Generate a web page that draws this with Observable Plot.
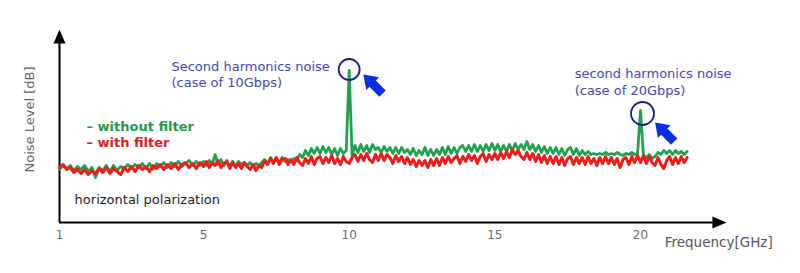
<!DOCTYPE html>
<html>
<head>
<meta charset="utf-8">
<script src="https://cdn.jsdelivr.net/npm/d3@7"></script>
<script src="https://cdn.jsdelivr.net/npm/@observablehq/plot@0.6"></script>
<style>
  html, body { margin: 0; padding: 0; background: #fff; }
</style>
</head>
<body>
<div id="chart"></div>
<script>
// ---- data ----
// frequency grid in GHz: 1.0 .. 21.6, step 0.1
const freqGHz = d3.range(10, 217).map(i => i / 10);

// noise level, arbitrary dB units
const withoutFilter = [
  26.5, 28.5, 27, 28.5, 26, 28, 26.5, 28.5, 25.5, 27.5,
  22.5, 27.5, 26, 28.5, 25.5, 28.5, 26, 28, 27, 29,
  27, 29, 27.5, 29.5, 27, 29.5, 26.5, 29.5, 28, 30,
  27.5, 30, 28, 30.5, 28, 29.5, 31, 28.5, 30.5, 28.5,
  30.5, 28.5, 31, 29, 34, 29, 31.5, 28.5, 31, 28,
  30.5, 28, 30.5, 29, 30, 28.5, 30, 28, 29.5, 28.5,
  30, 31.5, 29.5, 32.5, 30, 32, 30, 32.5, 30.5, 31.5,
  30.5, 32, 31, 34, 32.5, 36, 33.5, 37, 34.5, 37.5,
  34.5, 38, 35, 37.5, 34, 37, 33.5, 37, 34.5, 36,
  76, 33.5, 38.5, 35, 39, 35.5, 38.5, 35, 39, 36.5,
  37.5, 35, 38, 35.5, 37.5, 34.5, 37.5, 34.5, 37.5, 35,
  36.5, 34, 37, 33.5, 36, 34, 37.5, 33.5, 36.5, 33.5,
  36.5, 34, 37.5, 34, 38, 34.5, 37.5, 34.5, 37.5, 38.5,
  35.5, 38.5, 35.5, 39, 35.5, 38.5, 35.5, 39, 36, 39.5,
  36, 39, 35.5, 38.5, 35.5, 39, 36, 39.5, 36.5, 39,
  36.5, 40.5, 36.5, 39, 35.5, 38.5, 35, 38, 34.5, 37.5,
  34.5, 37.5, 34, 37, 33.5, 36.5, 37.5, 34, 37, 33.5,
  36, 34, 35.5, 34, 34.5, 34, 34.5, 34, 35, 34,
  34.5, 34, 35, 34, 33.5, 34.5, 34, 35, 34, 34.5,
  56, 33.5, 32.5, 34, 32, 33, 35, 34, 36, 34.5,
  36, 34, 36, 34.5, 35.5, 34, 35.5
];
const withFilter = [
  27.5, 29, 26.5, 27.5, 25, 26.5, 24.5, 26.5, 24, 26,
  24.5, 27, 25, 27.5, 24.5, 27, 25.5, 24, 27.5, 25.5,
  28, 25.5, 28.5, 26.5, 28, 25.5, 28.5, 27, 29, 26.5,
  29, 27, 29.5, 26.5, 29, 30, 27.5, 29.5, 27, 30,
  28, 30.5, 27.5, 30, 28.5, 31, 27.5, 29.5, 30.5, 27,
  30, 27.5, 29.5, 27, 30, 28, 26.5, 29, 26, 28.5,
  27.5, 31, 29, 32, 29.5, 32.5, 29, 31.5, 32, 29,
  31.5, 29, 32.5, 30, 28.5, 32, 29.5, 33, 29, 32,
  33, 29.5, 32.5, 30, 33.5, 29.5, 32, 29, 33, 30.5,
  29.5, 32.5, 34, 30.5, 34, 31, 34.5, 31.5, 30, 34,
  31, 34.5, 31, 34, 32.5, 29.5, 33.5, 30.5, 33, 29.5,
  32.5, 29, 31.5, 28, 31, 28.5, 31, 27.5, 31.5, 28.5,
  32, 28.5, 32.5, 29.5, 33, 30, 32, 33.5, 29.5, 33,
  30.5, 34, 31, 33.5, 29.5, 33, 34.5, 30.5, 34, 31.5,
  34.5, 31.5, 35, 32, 35.5, 32.5, 36.5, 34, 36, 33,
  31.5, 35, 31.5, 34.5, 30.5, 34, 30, 33.5, 29.5, 33,
  29.5, 33, 29, 32.5, 28.5, 32, 33, 29, 32.5, 29.5,
  32.5, 29, 33, 29.5, 32, 28.5, 32.5, 29.5, 33, 29.5,
  32.5, 29, 32, 27.5, 31.5, 32.5, 29, 33, 30, 33.5,
  30, 33.5, 29.5, 33, 30, 28.5, 32.5, 29, 27, 31,
  33, 29, 32.5, 29.5, 33, 30, 32.5
];

const xTicks = [1, 5, 10, 15, 20];
const seriesNames = ["without filter", "with filter"];
const seriesColors = ["#1ea24e", "#ee1c1c"];
const legendColors = ["#1f9a4c", "#d3222a"];

const annotationText = ["Second harmonics noise", "(case of 10Gbps)", "second harmonics noise", "(case of 20Gbps)"];
const annotationGHz = [4.11, 4.11, 17.74, 17.74];
const annotationDb = [78, 70, 74.5, 66];

const peakGHz = [10.0, 20.07];
const peakDb = [76.5, 54.5];
const peakRadius = [10.5, 11.5];

const pointerGHz = [10.49, 20.5];
const pointerDb = [74, 50];

// ---- build ----
const rows = (vals, name) => vals.map((v, i) => ({f: freqGHz[i], db: v, series: name}));
const green = rows(withoutFilter, seriesNames[0]);
const red = rows(withFilter, seriesNames[1]);

const blockArrow = {
  draw(context, l) {
    const hw = 9, hl = 13, sw = 4.5;
    context.moveTo(-sw, 0);
    context.lineTo(-sw, -l + hl);
    context.lineTo(-hw, -l + hl);
    context.lineTo(0, -l);
    context.lineTo(hw, -l + hl);
    context.lineTo(sw, -l + hl);
    context.lineTo(sw, 0);
    context.closePath();
  }
};
const headShape = {
  draw(context, l) {
    context.moveTo(-6, 0);
    context.lineTo(0, -l);
    context.lineTo(6, 0);
    context.closePath();
  }
};

const chart = Plot.plot({
  width: 800,
  height: 273,
  marginTop: 30,
  marginBottom: 51,
  marginLeft: 59,
  marginRight: 75,
  style: {fontFamily: "'DejaVu Sans', Verdana, sans-serif", background: "#fff", overflow: "visible"},
  x: {type: "linear", domain: [1, 5, 20], range: [59, 203, 640], axis: null},
  y: {domain: [0, 96], range: [222, 30], axis: null},
  r: {type: "identity"},
  marks: [
    // axes
    Plot.ruleX([1], {y1: 0, y2: 91, stroke: "#000", strokeWidth: 2}),
    Plot.ruleY([0], {x1: 1, x2: 22.55, stroke: "#000", strokeWidth: 2}),
    Plot.vector([{x: 1, y: 96.5}], {x: "x", y: "y", length: 14, rotate: 0, anchor: "end", shape: headShape, fill: "#000", stroke: "none"}),
    Plot.vector([{x: 22.95, y: 0}], {x: "x", y: "y", length: 14, rotate: 90, anchor: "end", shape: headShape, fill: "#000", stroke: "none"}),
    Plot.axisX({ticks: xTicks, tickSize: 0, tickPadding: 8, fontSize: 12, fill: "#6a6a6a", tickFormat: d => String(d)}),
    Plot.text(["Frequency[GHz]"], {x: 20.83, y: -10, textAnchor: "start", fontSize: 13.5, fill: "#555"}),
    Plot.text(["Noise Level [dB]"], {x: 0.17, y: 51.5, rotate: -90, fontSize: 13, fill: "#666"}),

    // series
    Plot.line(green, {x: "f", y: "db", stroke: seriesColors[0], strokeWidth: 2.8, strokeLinejoin: "round"}),
    Plot.line(red, {x: "f", y: "db", stroke: seriesColors[1], strokeWidth: 3, strokeLinejoin: "round"}),

    // legend
    Plot.text(["– " + seriesNames[0], "– " + seriesNames[1]], {
      x: 1.75, y: (d, i) => [48, 40][i], textAnchor: "start", fontSize: 13, fontWeight: "bold",
      fill: (d, i) => legendColors[i]
    }),
    Plot.text(["horizontal polarization"], {x: 1.42, y: 11.5, textAnchor: "start", fontSize: 13, fill: "#222"}),

    // annotations
    Plot.text(annotationText, {x: (d, i) => annotationGHz[i], y: (d, i) => annotationDb[i], textAnchor: "start", fontSize: 13, fill: "#4646b4"}),
    Plot.dot(peakGHz, {x: d => d, y: (d, i) => peakDb[i], r: (d, i) => peakRadius[i], stroke: "#1c1c8e", strokeWidth: 1.8, fill: "none"}),
    Plot.vector(pointerGHz, {x: d => d, y: (d, i) => pointerDb[i], length: 27, rotate: -45, anchor: "end", shape: blockArrow, fill: "#0a30e6", stroke: "none"})
  ]
});
document.getElementById("chart").appendChild(chart);
</script>
</body>
</html>
